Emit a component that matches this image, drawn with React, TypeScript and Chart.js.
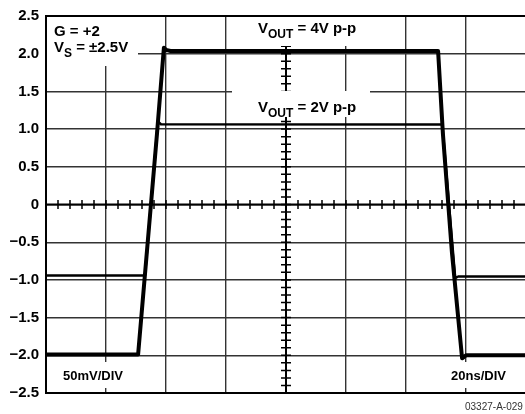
import React, { useEffect, useRef } from "react";
import { Chart, registerables } from "chart.js";

Chart.register(...registerables);

// time axis in ns (20 ns/div), voltage axis in V
const xMin = 0;
const xMax = 160;
const xStep = 20;
const yMin = -2.5;
const yMax = 2.5;
const yStep = 0.5;

const vout4X = [0, 30.7, 37, 39.3, 40, 41.5, 130.7, 132.3, 135.3, 138.7, 140, 160];
const vout4Y = [-1.99, -1.99, 0.94, 2.08, 2.05, 2.035, 2.035, 0.94, -0.63, -2.04, -2.0, -2.0];

const vout2X = [0, 33, 37.3, 38.3, 132.1, 136.4, 137.4, 160];
const vout2Y = [-0.94, -0.94, 1.1, 1.065, 1.06, -0.975, -0.955, -0.955];

const tickLabel = (v: number) =>
  v === 0 ? "0" : (v < 0 ? "\u2212" : "") + Math.abs(v).toFixed(1);

const FONT = "'Liberation Sans', Arial, sans-serif";

type Part = { t: string; sub?: boolean };

function drawParts(ctx: CanvasRenderingContext2D, x: number, y: number, parts: Part[], size: number, subSize: number) {
  let cx = x;
  for (const p of parts) {
    ctx.font = `bold ${p.sub ? subSize : size}px ${FONT}`;
    ctx.fillText(p.t, cx, p.sub ? y + 5 : y);
    cx += ctx.measureText(p.t).width;
  }
}

const decor = {
  id: "scopeDecor",
  beforeDatasetsDraw(chart: any) {
    const { ctx, chartArea: a, scales } = chart;
    const xs = scales.x;
    const ys = scales.y;
    ctx.save();
    // center cross
    const cx = xs.getPixelForValue((xMin + xMax) / 2);
    const cy = ys.getPixelForValue(0);
    ctx.strokeStyle = "#000";
    ctx.lineWidth = 2;
    ctx.beginPath();
    ctx.moveTo(a.left, cy);
    ctx.lineTo(a.right, cy);
    ctx.moveTo(cx, a.top);
    ctx.lineTo(cx, a.bottom);
    ctx.stroke();
    ctx.lineWidth = 1.5;
    ctx.beginPath();
    for (let t = xMin; t <= xMax + 1e-6; t += xStep / 5) {
      const px = xs.getPixelForValue(t);
      ctx.moveTo(px, cy - 4.5);
      ctx.lineTo(px, cy + 4.5);
    }
    for (let v = yMin; v <= yMax + 1e-6; v += yStep / 5) {
      const py = ys.getPixelForValue(v);
      ctx.moveTo(cx - 5, py);
      ctx.lineTo(cx + 5, py);
    }
    ctx.stroke();
    // border
    ctx.lineWidth = 2;
    ctx.strokeRect(a.left, a.top, a.right - a.left, a.bottom - a.top);
    // white label boxes
    ctx.fillStyle = "#fff";
    ctx.fillRect(a.left + 1, a.top + 1, 91, 49);
    ctx.fillRect(232, a.top + 1, 138, 29);
    ctx.fillRect(232, 91, 138, 26);
    ctx.fillRect(58, 362, 72, 26);
    ctx.fillRect(446, 362, 66, 26);
    // texts
    ctx.fillStyle = "#000";
    ctx.textBaseline = "alphabetic";
    ctx.textAlign = "left";
    drawParts(ctx, 54, 36, [{ t: "G = +2" }], 15, 12);
    drawParts(ctx, 54, 52, [{ t: "V" }, { t: "S", sub: true }, { t: " = \u00b12.5V" }], 15, 12);
    drawParts(ctx, 258, 33, [{ t: "V" }, { t: "OUT", sub: true }, { t: " = 4V p-p" }], 15, 12);
    drawParts(ctx, 258, 112, [{ t: "V" }, { t: "OUT", sub: true }, { t: " = 2V p-p" }], 15, 12);
    drawParts(ctx, 63, 380, [{ t: "50mV/DIV" }], 13, 13);
    drawParts(ctx, 451, 380, [{ t: "20ns/DIV" }], 13, 13);
    ctx.restore();
  },
  afterDraw(chart: any) {
    const { ctx } = chart;
    ctx.save();
    ctx.fillStyle = "#333";
    ctx.font = `10px ${FONT}`;
    ctx.textBaseline = "middle";
    ctx.textAlign = "left";
    ctx.fillText("03327-A-029", 465, 407);
    ctx.restore();
  },
};

export default function App() {
  const ref = useRef<HTMLCanvasElement>(null);
  useEffect(() => {
    if (!ref.current) return;
    const chart = new Chart(ref.current, {
      type: "line",
      data: {
        datasets: [
          {
            label: "VOUT = 4V p-p",
            data: vout4X.map((x, i) => ({ x, y: vout4Y[i] })),
            borderColor: "#000",
            borderWidth: 4,
            pointRadius: 0,
            tension: 0,
            borderJoinStyle: "round",
            borderCapStyle: "round",
          },
          {
            label: "VOUT = 2V p-p",
            data: vout2X.map((x, i) => ({ x, y: vout2Y[i] })),
            borderColor: "#000",
            borderWidth: 2.5,
            pointRadius: 0,
            tension: 0,
            borderJoinStyle: "round",
            borderCapStyle: "round",
          },
        ],
      },
      options: {
        animation: false,
        responsive: false,
        devicePixelRatio: 1,
        layout: { padding: { left: 0, top: 11, right: 2, bottom: 21 } },
        plugins: { legend: { display: false }, tooltip: { enabled: false } },
        scales: {
          x: {
            type: "linear",
            min: xMin,
            max: xMax,
            ticks: { display: false, stepSize: xStep },
            grid: { color: "#333", lineWidth: 1.4, drawTicks: false },
            border: { display: false },
            afterFit: (s: any) => {
              s.height = 0;
            },
          },
          y: {
            type: "linear",
            min: yMin,
            max: yMax,
            ticks: {
              stepSize: yStep,
              padding: 7,
              color: "#000",
              font: { family: FONT, size: 15, weight: "bold" },
              callback: (v: any) => tickLabel(Number(v)),
            },
            grid: { color: "#333", lineWidth: 1.4, drawTicks: false },
            border: { display: false },
            afterFit: (s: any) => {
              s.width = 46;
            },
          },
        },
      },
      plugins: [decor],
    });
    return () => chart.destroy();
  }, []);
  return (
    <div style={{ position: "fixed", left: 0, top: 0, width: 525, height: 414, overflow: "hidden", background: "#fff" }}>
      <canvas ref={ref} width={528} height={414} style={{ display: "block" }} />
    </div>
  );
}
